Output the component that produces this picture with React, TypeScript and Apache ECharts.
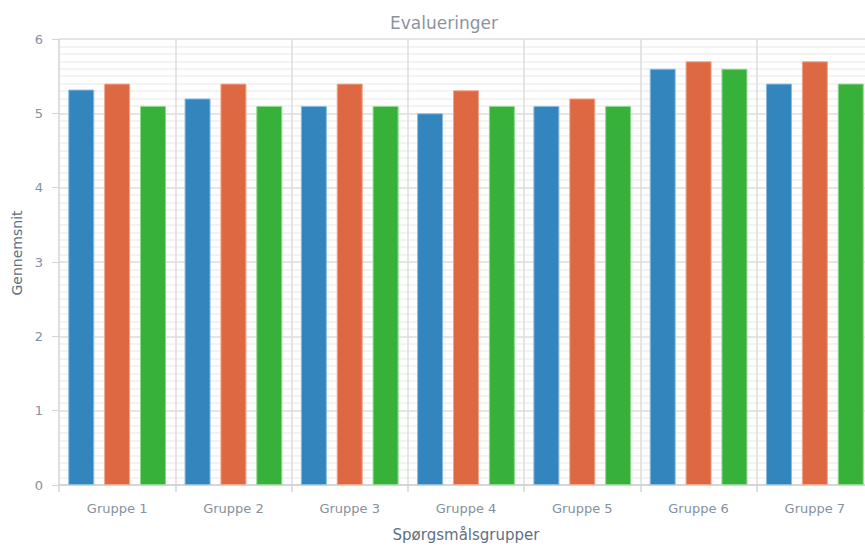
import React, { useEffect, useRef } from "react";
import * as echarts from "echarts";

const categories = ["Gruppe 1", "Gruppe 2", "Gruppe 3", "Gruppe 4", "Gruppe 5", "Gruppe 6", "Gruppe 7"];
const seriesA = [5.32, 5.2, 5.1, 5.0, 5.1, 5.6, 5.4];
const seriesB = [5.4, 5.4, 5.4, 5.31, 5.2, 5.7, 5.7];
const seriesC = [5.1, 5.1, 5.1, 5.1, 5.1, 5.6, 5.4];
const yTicks = [0, 1, 2, 3, 4, 5, 6];

const FONT = "'DejaVu Sans', Verdana, sans-serif";

export default function App() {
  const ref = useRef<HTMLDivElement>(null);
  useEffect(() => {
    if (!ref.current) return;
    const chart = echarts.init(ref.current, undefined, { renderer: "svg" });
    const mk = (name: string, data: number[], color: string, border: string) => ({
      name,
      type: "bar",
      data,
      barWidth: 26,
      barGap: "38%",
      itemStyle: { color, borderColor: border, borderWidth: 1 },
    });
    chart.setOption({
      animation: false,
      textStyle: { fontFamily: FONT },
      title: {
        text: "Evalueringer",
        left: "center",
        top: 9,
        textStyle: { fontFamily: FONT, fontSize: 17, fontWeight: "normal", color: "#8a949f" },
      },
      grid: { left: 59, top: 39, right: 15, height: 454, containLabel: false },
      xAxis: {
        type: "category",
        data: categories,
        name: "Spørgsmålsgrupper",
        nameLocation: "middle",
        nameGap: 42,
        nameTextStyle: { fontFamily: FONT, fontSize: 15, color: "#5f6f82" },
        axisLine: { show: true, lineStyle: { color: "#cfcfcf", width: 1.5 } },
        axisTick: { show: true, length: 7, lineStyle: { color: "#d5d5d5", width: 1.5 } },
        axisLabel: { fontFamily: FONT, fontSize: 13, color: "#8591a0", margin: 17 },
        splitLine: { show: true, lineStyle: { color: "#dcdcdc", width: 1.5 } },
      },
      yAxis: {
        type: "value",
        min: yTicks[0],
        max: yTicks[yTicks.length - 1],
        interval: 1,
        name: "Gennemsnit",
        nameLocation: "middle",
        nameGap: 34,
        nameTextStyle: { fontFamily: FONT, fontSize: 14, color: "#5f6f82", padding: [0, 0, 0, 18] },
        axisLine: { show: true, lineStyle: { color: "#dcdcdc", width: 1.5 } },
        axisTick: { show: true, length: 7, lineStyle: { color: "#d5d5d5", width: 1 } },
        axisLabel: { fontFamily: FONT, fontSize: 13, color: "#8591a0", margin: 16 },
        splitLine: { show: true, lineStyle: { color: "#dcdcdc", width: 1.5 } },
        minorTick: { show: false, splitNumber: 10 },
        minorSplitLine: { show: true, lineStyle: { color: "#efefef", width: 1.5 } },
      },
      series: [
        mk("Serie 1", seriesA, "#3385bd", "#8bbbe0"),
        mk("Serie 2", seriesB, "#dd6842", "#f0a68c"),
        mk("Serie 3", seriesC, "#38b13a", "#8fd98f"),
      ],
    });
    return () => chart.dispose();
  }, []);
  return (
    <div style={{ position: "absolute", left: 0, top: 0, width: 865, height: 547, overflow: "hidden", background: "#fff" }}>
      <div ref={ref} style={{ width: 888, height: 547 }} />
    </div>
  );
}
